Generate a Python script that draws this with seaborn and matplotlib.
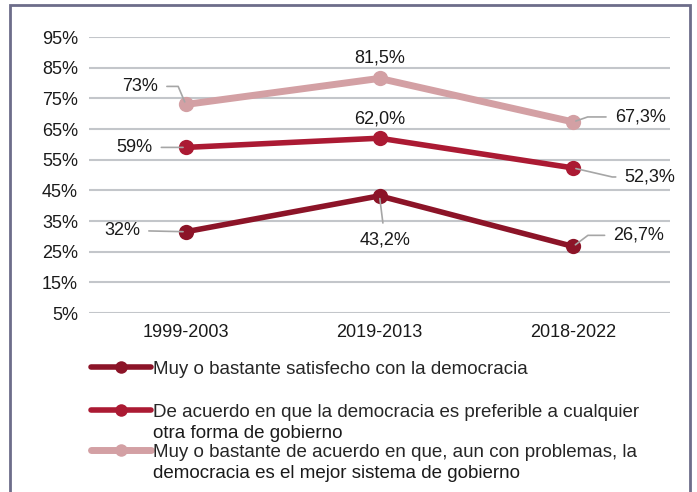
import pandas as pd
import matplotlib.pyplot as plt
import matplotlib.patches as mpatches
from matplotlib.lines import Line2D
import seaborn as sns

periodos = ['1999-2003', '2019-2013', '2018-2022']
series = [
    'Muy o bastante satisfecho con la democracia',
    'De acuerdo en que la democracia es preferible a cualquier\notra forma de gobierno',
    'Muy o bastante de acuerdo en que, aun con problemas, la\ndemocracia es el mejor sistema de gobierno',
]
satisfecho = [31.5, 43.2, 26.7]
preferible = [59.0, 62.0, 52.3]
mejor_sistema = [73.0, 81.5, 67.3]
etiquetas_satisfecho = ['32%', '43,2%', '26,7%']
etiquetas_preferible = ['59%', '62,0%', '52,3%']
etiquetas_mejor = ['73%', '81,5%', '67,3%']
colores = ['#8c1428', '#ab1a33', '#d3a0a4']
grosores = [4, 4, 5]

sns.set_style('white')
plt.rcParams['font.family'] = ['Liberation Sans', 'DejaVu Sans']

valores = [satisfecho, preferible, mejor_sistema]
df = pd.DataFrame({
    'periodo': periodos * 3,
    'valor': satisfecho + preferible + mejor_sistema,
    'serie': [s for s in series for _ in periodos],
})

fig = plt.figure(figsize=(6.97, 4.92), dpi=100)
ax = fig.add_axes([89 / 697, 1 - 313 / 492, 581 / 697, 276 / 492])

for s, c, lw in zip(series, colores, grosores):
    sns.lineplot(data=df[df['serie'] == s], x='periodo', y='valor', color=c,
                 linewidth=lw, marker='o', markersize=11, markeredgewidth=0,
                 ax=ax, legend=False, sort=False)

ax.set_xlim(-0.5, 2.5)
ax.set_ylim(5, 95)
ax.set_yticks(range(5, 96, 10))
ax.set_yticklabels([f'{v}%' for v in range(5, 96, 10)])
ax.yaxis.grid(True, color='#c3c6ca', linewidth=1.5)
ax.set_axisbelow(True)
ax.tick_params(axis='both', length=0, labelsize=13, colors='#1a1a1a', pad=8)
ax.set_xlabel('')
ax.set_ylabel('')
for sp in ax.spines.values():
    sp.set_visible(False)

# data labels: (dx, dy in points, ha, leader connection or None)
gris = '#a6a6a6'
conf = [
    # satisfecho
    [(-33, 1, 'right', 'arc3'), (4, -32, 'center', 'arc3'),
     (29, 8, 'left', 'angle,angleA=0,angleB=37,rad=0')],
    # preferible
    [(-24, 0, 'right', 'arc3'), (0, 14, 'center', None),
     (37, -6.5, 'left', 'angle,angleA=0,angleB=-13,rad=0')],
    # mejor sistema
    [(-20, 13, 'right', 'angle,angleA=0,angleB=-67,rad=0'), (0, 15, 'center', None),
     (30, 3.6, 'left', 'angle,angleA=0,angleB=19,rad=0')],
]
etiquetas = [etiquetas_satisfecho, etiquetas_preferible, etiquetas_mejor]
for vals, labs, cf in zip(valores, etiquetas, conf):
    for i, (v, lab, (dx, dy, ha, cs)) in enumerate(zip(vals, labs, cf)):
        props = None
        if cs is not None:
            props = dict(arrowstyle='-', color=gris, linewidth=1.2,
                         shrinkA=4, shrinkB=2, connectionstyle=cs)
        ax.annotate(lab, xy=(i, v), xytext=(dx, dy), textcoords='offset points',
                    ha=ha, va='center', fontsize=13, color='#1a1a1a',
                    arrowprops=props)

# legend: one entry per row, handle next to the first line of its text
filas_y = [369, 412, 452]
for s, c, lw, yy in zip(series, colores, grosores, filas_y):
    lineas = s.split('\n')
    h = Line2D([0], [0], color=c, linewidth=lw, marker='o', markersize=9,
               markeredgewidth=0)
    leg = fig.legend([h], [lineas[0]], loc='center left',
                     bbox_to_anchor=(91 / 697, 1 - yy / 492), frameon=False,
                     fontsize=13.5, handlelength=3.2, handletextpad=0.1,
                     borderpad=0, borderaxespad=0)
    fig.canvas.draw()
    bb = leg.get_texts()[0].get_window_extent()
    for k, resto in enumerate(lineas[1:], start=1):
        fig.text(bb.x0 / 697, 1 - (yy + 21 * k) / 492, resto, ha='left',
                 va='center', fontsize=13.5, color='#1a1a1a')

borde = mpatches.Rectangle((10 / 697, -0.05), 680 / 697, 1.05 - 5 / 492,
                           transform=fig.transFigure, fill=False,
                           edgecolor='#6d6d8a', linewidth=2)
fig.patches.append(borde)

fig.savefig('out.png', dpi=100)
